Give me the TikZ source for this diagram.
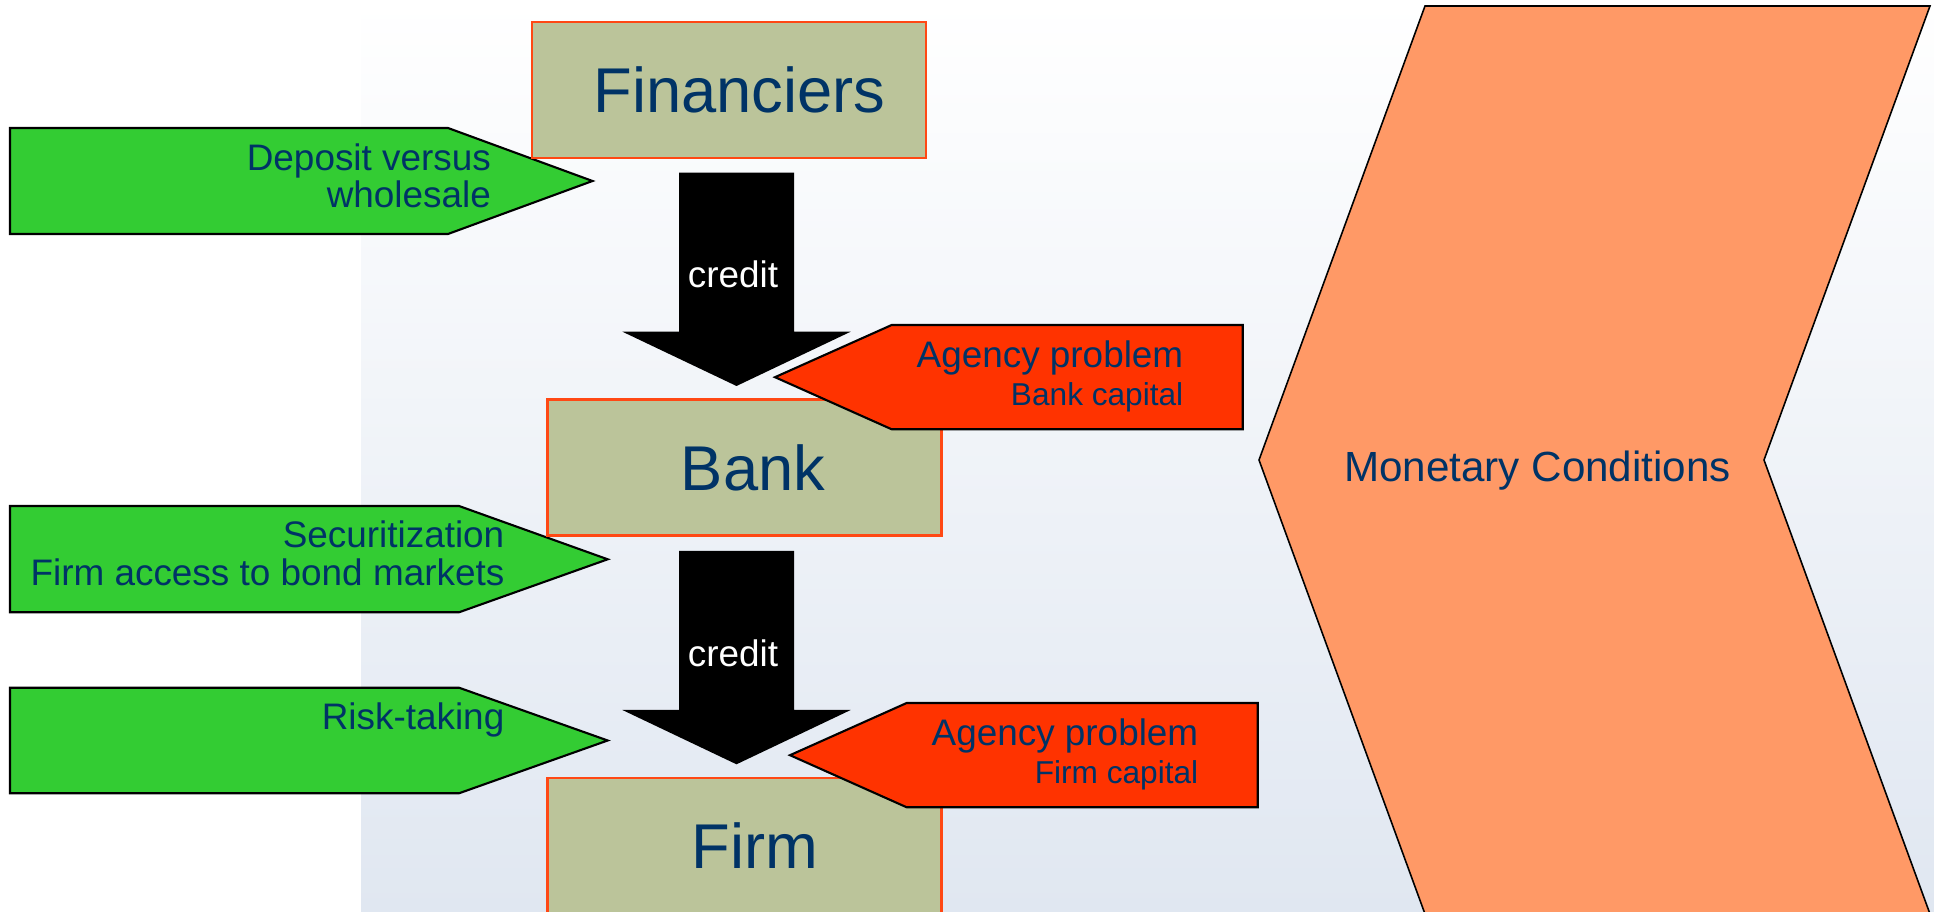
\documentclass[tikz,border=0pt]{standalone}
\usepackage{fontspec}
\setmainfont{Liberation Sans}

\definecolor{navy}{RGB}{0,51,102}
\definecolor{khaki}{RGB}{187,196,154}
\definecolor{boxline}{RGB}{255,72,20}
\definecolor{leafgreen}{RGB}{51,204,51}
\definecolor{signalred}{RGB}{255,51,0}
\definecolor{salmon}{RGB}{255,153,102}
\definecolor{mist}{RGB}{224,231,241}

\begin{document}
\begin{tikzpicture}[x=0.1mm, y=-0.1mm,
    actor/.style={draw=boxline, line width=0.7pt, fill=khaki, inner sep=0pt,
                  minimum width=39.4mm, minimum height=13.6mm,
                  text=navy, font=\fontsize{18}{20}\selectfont},
    tag/.style={anchor=base east, inner sep=0pt, text=navy,
                font=\fontsize{10.5}{12}\selectfont},
    subtag/.style={tag, font=\fontsize{9}{11}\selectfont},
    outline/.style={draw=black, line width=0.6pt, line join=miter}]

  % ================= canvas =================
  \useasboundingbox (0,0) rectangle (1934,912);
  \clip (0,0) rectangle (1934,912);
  \fill[white] (0,0) rectangle (1934,912);
  \shade[top color=white, middle color=mist!35!white, bottom color=mist]
      (361,0) rectangle (1934,912);

  % ================= monetary conditions chevron =================
  \filldraw[fill=salmon, draw=black, line width=0.45pt, line join=miter]
      (1425,6) -- (1930,6) -- (1764,460) -- (1930,914) -- (1425,914)
      -- (1259,460) -- cycle;
  \node[anchor=base, text=navy, font=\fontsize{12}{14}\selectfont]
      (mc) at (1537.5,482) {Monetary Conditions};

  % ================= green side arrows =================
  % deposit / wholesale funding
  \fill[leafgreen, outline] (10,128) -- (448,128) -- (592.5,181)
      -- (448,234) -- (10,234) -- cycle;
  \node[tag] (dep1) at (491.6,170.5) {Deposit versus};
  \node[tag] (dep2) at (491.6,208)   {wholesale};
  % securitization
  \fill[leafgreen, outline] (10,506) -- (459,506) -- (607.7,559.3)
      -- (459,612.3) -- (10,612.3) -- cycle;
  \node[tag] (sec1) at (505,548) {Securitization};
  \node[tag] (sec2) at (505,586) {Firm access to bond markets};
  % risk-taking
  \fill[leafgreen, outline] (10,687.7) -- (459,687.7) -- (607.7,740.5)
      -- (459,793.3) -- (10,793.3) -- cycle;
  \node[tag] (risk) at (505,730) {Risk-taking};

  % ================= the three actors =================
  \node[actor] (fin)  at (729,90)      {\hspace*{2.1mm}Financiers};
  \node[actor] (bank) at (744.5,467.5) {\hspace*{1.7mm}Bank};
  \node[actor] (firm) at (744.5,846)   {\hspace*{2.1mm}Firm};

  % ================= credit flows =================
  % financiers -> bank
  \fill[black] (679,172.7) -- (794,172.7) -- (794,331.7) -- (850.7,331.7)
      -- (736.5,386) -- (622.4,331.7) -- (679,331.7) -- cycle;
  \node[anchor=base, text=white, font=\fontsize{10.5}{12}\selectfont]
      (cr1) at (733,288) {credit};
  % bank -> firm
  \fill[black] (679,551) -- (794,551) -- (794,710) -- (850.7,710)
      -- (736.5,764.3) -- (622.4,710) -- (679,710) -- cycle;
  \node[anchor=base, text=white, font=\fontsize{10.5}{12}\selectfont]
      (cr2) at (733,666.5) {credit};

  % ================= agency problems =================
  % at the bank
  \fill[signalred, outline] (1242.7,325) -- (891.7,325) -- (775,377.2)
      -- (891.7,429.3) -- (1242.7,429.3) -- cycle;
  \node[tag]    (ag1) at (1184,367.5) {Agency problem};
  \node[subtag] (bc)  at (1184,405.5) {Bank capital};
  % at the firm
  \fill[signalred, outline] (1257.7,703) -- (906.7,703) -- (790,755.2)
      -- (906.7,807.3) -- (1257.7,807.3) -- cycle;
  \node[tag]    (ag2) at (1199,745.5) {Agency problem};
  \node[subtag] (fc)  at (1199,783.5) {Firm capital};

\end{tikzpicture}
\end{document}
